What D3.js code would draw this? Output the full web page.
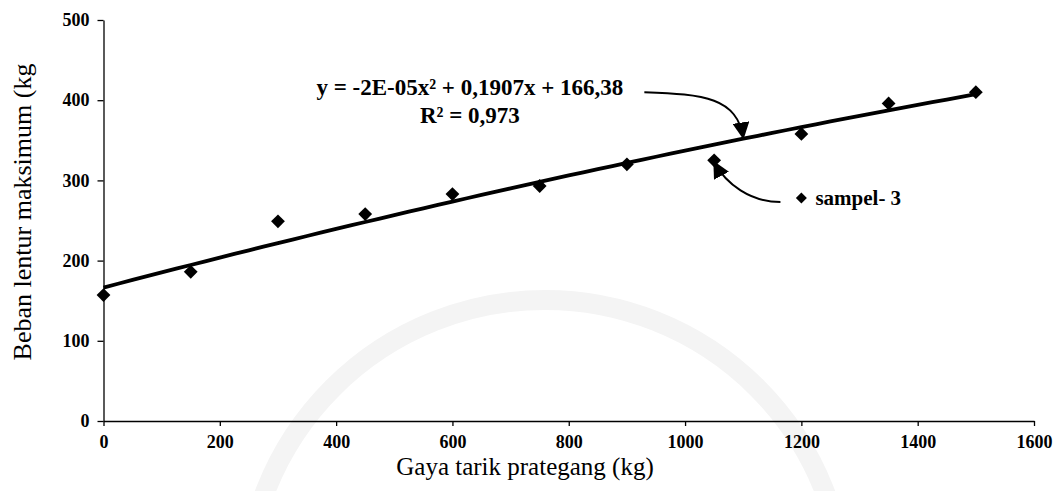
<!DOCTYPE html>
<html>
<head>
<meta charset="utf-8">
<script src="https://cdn.jsdelivr.net/npm/d3@7"></script>
<style>
    body { margin: 0; background: #fff; }
    svg { display: block; }
    .domain, .tick line { stroke: #000; stroke-width: 1.3; }
</style>
</head>
<body>
<svg id="chart" width="1063" height="491"></svg>
<script>
// data
const gaya = [0, 150, 300, 450, 600, 750, 900, 1050, 1200, 1350, 1500];
const beban = [157, 186, 249, 258, 283, 293, 320, 325, 358, 396, 410];
const xTicks = [0, 200, 400, 600, 800, 1000, 1200, 1400, 1600];
const yTicks = [0, 100, 200, 300, 400, 500];
// trendline shown on the chart: y = a x^2 + b x + c
const trendCoef = [-2e-5, 0.1907, 166.38];
const trendText = ['y = -2E-05x² + 0,1907x + 166,38', 'R² = 0,973'];
const legendText = 'sampel- 3';

const svg = d3.select('#chart');
const serif = "'Liberation Serif', 'Times New Roman', serif";

const x = d3.scaleLinear().domain([0, 1600]).range([103.5, 1034]);
const y = d3.scaleLinear().domain([0, 500]).range([421, 20]);

// faint watermark arc in the background
svg.append('circle')
    .attr('cx', 545).attr('cy', 600).attr('r', 300)
    .attr('fill', 'none').attr('stroke', '#f4f4f4').attr('stroke-width', 20);

// axes
const xAxis = svg.append('g')
    .attr('transform', `translate(0,${y(0)})`)
    .call(d3.axisBottom(x).tickValues(xTicks).tickFormat(d3.format('d'))
        .tickSize(5).tickSizeOuter(0).tickPadding(9));
const yAxis = svg.append('g')
    .attr('transform', `translate(${x(0)},0)`)
    .call(d3.axisLeft(y).tickValues(yTicks).tickFormat(d3.format('d'))
        .tickSize(6).tickSizeOuter(0).tickPadding(8));
[xAxis, yAxis].forEach(a => a
    .attr('font-family', serif).attr('font-size', 18).attr('font-weight', 'bold')
    .selectAll('text').attr('fill', '#000'));

svg.append('text')
    .attr('x', 525).attr('y', 475)
    .attr('text-anchor', 'middle')
    .style('font-family', serif).style('font-size', '25px')
    .text('Gaya tarik prategang (kg)');
svg.append('text')
    .attr('transform', 'translate(31,212) rotate(-90)')
    .attr('text-anchor', 'middle')
    .style('font-family', serif).style('font-size', '26px')
    .text('Beban lentur maksimum (kg');

// trendline
const fit = v => trendCoef[0] * v * v + trendCoef[1] * v + trendCoef[2];
const fitXs = d3.range(0, 1501, 25);
svg.append('path')
    .datum(fitXs)
    .attr('fill', 'none').attr('stroke', '#000').attr('stroke-width', 3.8)
    .attr('d', d3.line().x(d => x(d)).y(d => y(fit(d))));

// points
const diamond = d3.symbol().type(d3.symbolSquare).size(95);
svg.append('g').selectAll('path')
    .data(gaya.map((g, i) => [g, beban[i]]))
    .join('path')
    .attr('d', diamond)
    .attr('transform', d => `translate(${x(d[0])},${y(d[1])}) rotate(45)`);

// equation text
svg.append('g').selectAll('text')
    .data(trendText)
    .join('text')
    .attr('x', x(630)).attr('y', (d, i) => y(406) + i * 28)
    .attr('text-anchor', 'middle')
    .style('font-family', serif).style('font-weight', 'bold').style('font-size', '23px')
    .text(d => d);

// arrows
svg.append('defs').append('marker')
    .attr('id', 'head').attr('viewBox', '0 0 10 10')
    .attr('refX', 9).attr('refY', 5)
    .attr('markerWidth', 17).attr('markerHeight', 17)
    .attr('markerUnits', 'userSpaceOnUse')
    .attr('orient', 'auto')
    .append('path').attr('d', 'M0,0L10,5L0,10z').attr('fill', '#000');

const tip1 = [x(1100), y(fit(1100)) - 1];
const st1 = [x(930), y(410)];
svg.append('path')
    .attr('fill', 'none').attr('stroke', '#000').attr('stroke-width', 2)
    .attr('marker-end', 'url(#head)')
    .attr('d', `M${st1[0]},${st1[1]} C${st1[0] + 60},${st1[1] + 2} ${tip1[0] - 6},${tip1[1] - 40} ${tip1[0]},${tip1[1]}`);

const tip2 = [x(1050), y(325) + 2];
const st2 = [x(1164), y(273)];
svg.append('path')
    .attr('fill', 'none').attr('stroke', '#000').attr('stroke-width', 2)
    .attr('marker-end', 'url(#head)')
    .attr('d', `M${st2[0]},${st2[1]} C${st2[0] - 30},${st2[1]} ${tip2[0] + 12},${tip2[1] + 22} ${tip2[0]},${tip2[1]}`);

// legend
svg.append('path')
    .attr('d', diamond)
    .attr('transform', `translate(${x(1200)},${y(278)}) rotate(45) scale(0.8)`);
svg.append('text')
    .attr('x', x(1200) + 14).attr('y', y(278) + 7)
    .style('font-family', serif).style('font-weight', 'bold').style('font-size', '21px')
    .text(legendText);
</script>
</body>
</html>
